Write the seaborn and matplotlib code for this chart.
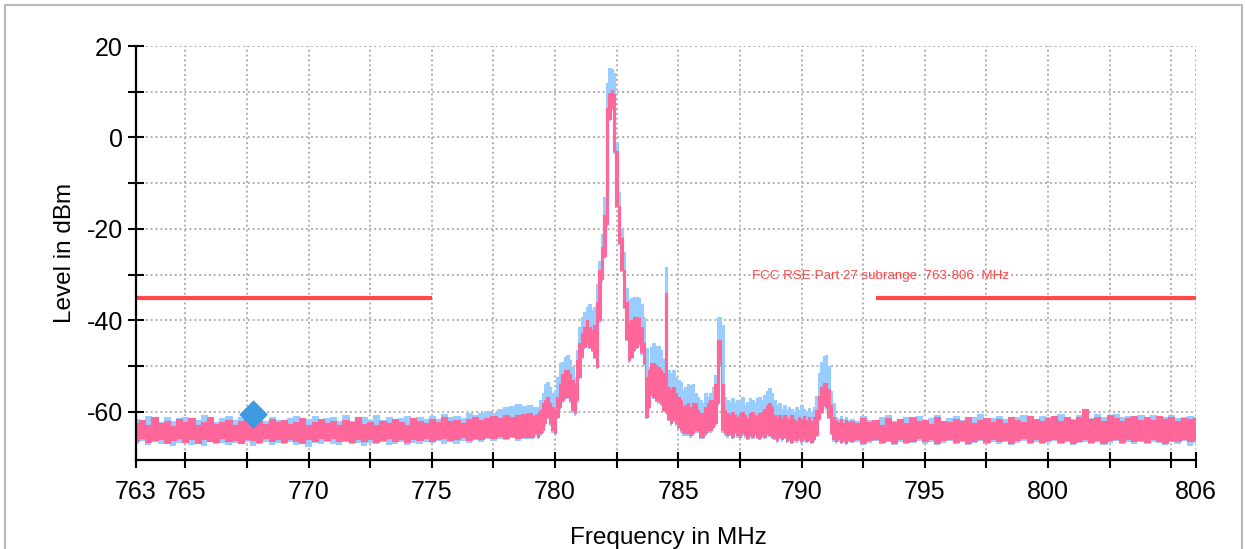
import numpy as np
import pandas as pd
import matplotlib
matplotlib.use("Agg")
import matplotlib.pyplot as plt
from matplotlib.lines import Line2D
import seaborn as sns

# ---------------- data ----------------
# Segment A: 763.00 .. 778.75 MHz, 0.25 MHz bins
pink_hi_a = [-62.5, -61.8, -62.9, -61.2, -62.4, -62.0, -63.1, -61.6,
             -62.2, -61.4, -62.8, -62.1, -61.0, -62.6, -62.3, -61.7,
             -62.9, -61.9, -61.3, -62.4, -62.0, -62.7, -61.5, -62.2,
             -61.8, -62.6, -62.1, -61.4, -62.9, -62.3, -61.6, -62.5,
             -62.0, -62.8, -61.7, -62.3, -61.2, -62.6, -62.1, -62.9,
             -61.9, -62.4, -61.5, -62.2, -62.8, -61.3, -62.0, -62.5,
             -61.6, -62.3, -61.1, -62.0, -61.8, -62.4, -61.5, -61.2,
             -61.8, -61.4, -60.9, -61.3, -60.7, -61.0, -60.6, -60.4]
pink_lo_a = [-66.3, -65.8, -66.6, -66.1, -65.9, -66.7, -66.2, -65.7,
             -66.5, -66.0, -66.8, -65.9, -66.3, -66.6, -65.8, -66.4,
             -66.1, -66.7, -65.9, -66.2, -66.5, -65.8, -66.4, -66.0,
             -66.6, -65.9, -66.3, -66.8, -66.0, -66.4, -65.7, -66.2,
             -65.8, -66.4, -66.1, -66.6, -65.9, -66.3, -66.0, -66.5,
             -66.2, -65.7, -66.4, -66.0, -66.6, -65.9, -66.2, -65.8,
             -66.3, -66.0, -65.6, -66.2, -65.9, -65.5, -66.1, -65.7,
             -65.9, -65.4, -65.8, -65.3, -65.6, -65.2, -65.7, -65.4]
blue_hi_a = [-61.6, -62.2, -60.9, -61.9, -62.3, -61.1, -62.0, -61.4,
             -61.0, -62.1, -61.7, -60.6, -61.9, -62.2, -61.3, -60.8,
             -61.8, -61.2, -62.0, -60.7, -61.5, -61.9, -61.0, -61.7,
             -62.1, -61.3, -60.8, -61.9, -61.5, -60.9, -62.0, -61.4,
             -61.2, -61.9, -60.7, -62.0, -61.4, -61.0, -61.8, -60.6,
             -61.7, -61.0, -62.1, -61.3, -60.8, -61.9, -61.2, -61.6,
             -60.9, -61.5, -60.4, -61.2, -60.8, -61.4, -60.2, -60.6,
             -60.3, -59.8, -60.2, -59.4, -59.0, -58.6, -58.2, -58.8]
blue_lo_a = [-66.9, -66.4, -67.3, -66.6, -67.0, -66.5, -67.4, -66.8,
             -66.6, -67.2, -66.7, -67.5, -66.5, -67.0, -66.8, -67.3,
             -66.7, -67.1, -66.5, -67.4, -66.9, -66.6, -67.2, -66.8,
             -67.0, -66.6, -67.3, -66.8, -67.6, -66.7, -67.0, -66.5,
             -66.9, -67.3, -66.6, -67.0, -66.7, -67.4, -66.8, -67.1,
             -66.6, -67.2, -66.9, -66.5, -67.3, -66.8, -67.0, -66.6,
             -66.8, -66.4, -67.1, -66.6, -66.9, -66.3, -66.7, -66.2,
             -66.5, -66.0, -66.4, -65.9, -66.2, -65.8, -66.3, -66.0]

# Segment B: 779.0 .. 791.9 MHz, 0.1 MHz bins
pink_hi_b = [-60.3, -61.0, -60.7, -60.3, -59.6, -58.1, -57.4, -56.7, -58.1, -58.9,
             -59.6, -56.7, -53.8, -51.6, -50.8, -50.8, -51.6, -53.0, -53.8, -48.7,
             -45.0, -42.8, -41.4, -39.9, -41.4, -42.1, -41.0, -36.0, -29.0, -24.0,
             -17.0, 6.5, 9.8, 10.4, 9.5, -3.0, -15.0, -22.0, -29.0, -36.0,
             -40.6, -39.9, -39.2, -39.2, -39.5, -41.4, -45.0, -52.3, -50.8, -49.3,
             -49.4, -49.8, -50.1, -50.8, -51.5, -34.0, -54.5, -55.2, -54.5, -55.9,
             -56.7, -57.4, -58.9, -58.5, -58.1, -58.9, -58.1, -58.1, -59.6, -60.3,
             -60.3, -58.9, -58.1, -57.4, -57.4, -53.8, -44.3, -44.3, -53.8, -59.6,
             -60.3, -60.7, -60.0, -60.7, -61.0, -60.3, -60.0, -60.7, -61.3, -60.3,
             -60.0, -60.7, -61.0, -60.3, -60.0, -59.3, -58.5, -58.0, -59.0, -60.7,
             -61.3, -60.7, -61.6, -60.7, -61.3, -61.8, -60.7, -61.5, -62.0, -61.0,
             -61.6, -60.9, -61.8, -61.2, -62.0, -61.0, -59.5, -56.5, -54.5, -53.7,
             -53.7, -55.0, -58.5, -61.2, -61.8, -62.2, -61.5, -62.4, -61.7, -62.3]
pink_lo_b = [-65.4, -65.4, -64.7, -65.4, -64.7, -64.0, -62.5, -61.0, -62.5, -64.0,
             -64.7, -61.0, -58.9, -57.4, -56.7, -56.7, -57.4, -59.6, -60.3, -57.4,
             -52.3, -47.9, -45.7, -45.0, -45.7, -46.5, -47.9, -50.1, -40.0, -31.0,
             -26.0, -19.0, 4.0, 6.5, -3.0, -15.0, -23.0, -29.0, -37.0, -44.0,
             -48.7, -47.9, -46.5, -45.7, -45.0, -47.0, -49.4, -61.0, -59.0, -56.0,
             -56.7, -57.4, -57.7, -58.1, -59.6, -60.0, -61.5, -62.5, -61.8, -62.5,
             -63.2, -64.0, -64.7, -64.7, -64.7, -65.1, -64.7, -64.0, -64.0, -65.4,
             -65.4, -64.7, -64.0, -64.0, -63.2, -62.5, -58.1, -49.4, -64.0, -64.7,
             -65.1, -64.7, -65.4, -64.4, -65.1, -65.4, -64.7, -65.1, -65.7, -65.0,
             -65.4, -64.7, -65.4, -65.7, -65.0, -65.4, -64.7, -65.0, -65.4, -65.7,
             -66.2, -65.4, -66.0, -65.5, -66.3, -65.8, -66.6, -65.9, -66.2, -65.6,
             -66.4, -65.8, -66.3, -65.9, -66.5, -66.0, -65.0, -61.5, -60.0, -58.5,
             -59.0, -61.0, -64.5, -66.0, -66.4, -66.0, -66.6, -66.2, -66.8, -66.1]
blue_hi_b = [-58.5, -58.9, -58.9, -58.9, -57.4, -55.9, -53.8, -53.4, -54.5, -55.9,
             -55.2, -52.3, -49.4, -49.0, -47.9, -47.6, -48.7, -50.1, -52.3, -46.5,
             -41.4, -39.2, -38.1, -37.0, -36.3, -37.7, -37.0, -32.0, -27.0, -21.0,
             -13.0, 12.0, 15.2, 15.0, 14.2, -1.0, -12.0, -20.0, -25.0, -33.0,
             -35.5, -35.0, -34.8, -34.8, -35.0, -36.5, -39.2, -46.0, -50.2, -45.8,
             -45.0, -45.5, -45.5, -46.5, -48.5, -28.3, -50.8, -51.5, -50.8, -52.3,
             -53.0, -53.4, -55.2, -54.5, -53.8, -54.0, -53.8, -55.9, -56.7, -57.4,
             -58.1, -55.9, -56.7, -55.9, -54.5, -52.0, -39.2, -39.2, -41.0, -56.7,
             -57.4, -57.8, -57.0, -58.1, -57.4, -57.8, -56.7, -58.5, -57.8, -57.0,
             -57.4, -58.1, -57.0, -56.7, -57.4, -56.3, -55.5, -54.8, -55.9, -57.4,
             -58.5, -58.1, -59.3, -58.5, -59.6, -58.9, -59.3, -60.0, -59.0, -59.6,
             -58.5, -59.3, -60.0, -59.2, -60.2, -59.0, -56.5, -51.5, -49.0, -47.8,
             -47.5, -50.0, -55.5, -58.0, -61.0, -61.5, -60.9, -61.6, -61.2, -61.8]
blue_lo_b = [-66.0, -65.9, -65.3, -66.0, -65.2, -64.6, -63.0, -61.6, -63.0, -64.5,
             -65.3, -61.5, -59.5, -58.0, -57.3, -57.2, -58.0, -60.2, -60.8, -58.0,
             -52.8, -48.5, -46.2, -45.5, -46.2, -47.0, -48.5, -50.6, -40.5, -31.5,
             -26.5, -19.5, 3.5, 6.0, -3.5, -15.5, -23.5, -29.5, -37.5, -44.5,
             -49.2, -48.4, -47.0, -46.2, -45.5, -47.5, -49.9, -61.5, -59.5, -56.5,
             -57.2, -57.9, -58.2, -58.6, -60.1, -60.5, -62.0, -63.0, -62.3, -63.0,
             -63.7, -64.5, -65.2, -65.2, -65.2, -65.6, -65.2, -64.5, -64.5, -65.9,
             -65.9, -65.2, -64.5, -64.5, -63.7, -63.0, -58.6, -49.9, -64.5, -65.2,
             -65.6, -65.2, -65.9, -64.9, -65.6, -65.9, -65.2, -65.6, -66.2, -65.5,
             -65.9, -65.2, -65.9, -66.2, -65.5, -65.9, -65.2, -65.5, -65.9, -66.2,
             -66.7, -65.9, -66.5, -66.0, -66.8, -66.3, -67.1, -66.4, -66.7, -66.1,
             -66.9, -66.3, -66.8, -66.4, -67.0, -66.5, -65.5, -62.0, -60.5, -59.0,
             -59.5, -61.5, -65.0, -66.5, -66.9, -66.5, -67.1, -66.7, -67.3, -66.6]

# Segment C: 792.00 .. 806.00 MHz, 0.25 MHz bins
pink_hi_c = [-61.9, -62.5, -61.4, -62.2, -61.7, -62.8, -61.3, -62.1,
             -61.6, -62.4, -61.0, -62.0, -61.8, -62.6, -61.2, -61.9,
             -62.3, -61.5, -62.0, -61.1, -62.5, -61.7, -61.3, -62.2,
             -61.6, -62.4, -61.0, -61.8, -62.1, -60.9, -61.5, -62.0,
             -61.4, -60.8, -61.9, -61.2, -61.7, -61.0, -59.4, -61.6,
             -61.1, -61.9, -60.6, -61.4, -62.0, -61.3, -60.9, -61.7,
             -61.2, -61.8, -60.8, -61.5, -61.0, -61.9, -61.3, -61.6,
             -61.4]
pink_lo_c = [-66.4, -66.0, -66.7, -66.2, -65.9, -66.5, -66.1, -66.8,
             -66.0, -66.6, -66.3, -65.8, -66.4, -66.0, -66.7, -66.2,
             -65.9, -66.5, -66.1, -66.8, -66.3, -65.9, -66.6, -66.0,
             -66.4, -66.1, -66.7, -66.2, -65.8, -66.5, -66.0, -66.6,
             -66.2, -65.9, -66.6, -66.1, -66.8, -66.3, -66.0, -66.5,
             -66.1, -66.7, -66.2, -65.9, -66.5, -66.0, -66.4, -66.1,
             -66.6, -66.0, -66.3, -66.8, -66.1, -66.4, -65.9, -66.3,
             -66.2]
blue_hi_c = [-61.5, -62.0, -60.9, -61.8, -62.2, -61.2, -60.7, -61.9,
             -62.1, -61.0, -61.6, -60.8, -61.9, -61.3, -60.6, -62.0,
             -61.4, -60.9, -61.7, -62.2, -61.0, -60.5, -61.8, -61.3,
             -60.8, -61.6, -62.0, -61.1, -60.6, -61.5, -61.9, -60.9,
             -61.2, -61.7, -60.4, -61.0, -61.5, -60.7, -60.2, -61.3,
             -60.5, -61.2, -61.6, -60.4, -61.1, -60.8, -61.5, -60.6,
             -61.0, -60.7, -61.4, -61.1, -60.6, -61.3, -61.0, -60.9,
             -61.2]
blue_lo_c = [-66.8, -66.5, -67.2, -66.7, -66.4, -67.0, -66.6, -67.3,
             -66.5, -67.1, -66.8, -66.3, -66.9, -66.5, -67.2, -66.7,
             -66.4, -67.0, -66.6, -67.3, -66.8, -66.4, -67.1, -66.5,
             -66.9, -66.6, -67.2, -66.7, -66.3, -67.0, -66.5, -67.1,
             -66.7, -66.4, -67.1, -66.6, -67.3, -66.8, -66.5, -67.0,
             -66.6, -67.2, -66.7, -66.4, -67.0, -66.5, -66.9, -66.6,
             -67.1, -66.5, -66.8, -67.3, -66.6, -66.9, -66.4, -67.5,
             -66.7]

# limit line (FCC RSE Part 27), marker
limit_level = -35.0
limit_segments = [(763.0, 775.0), (793.0, 806.0)]
limit_label = "FCC RSE Part 27 subrange  763-806  MHz"
limit_label_pos = (788.0, -30.3)
marker_freq = [767.77]
marker_level = [-60.6]

# axes / ticks
x_range = (763.0, 806.0)
y_range = (-70.5, 20.0)
x_major = [763, 765, 770, 775, 780, 785, 790, 795, 800, 806]
x_major_labels = ["763", "765", "770", "775", "780", "785", "790", "795", "800", "806"]
x_minor = [767.5, 772.5, 777.5, 782.5, 787.5, 792.5, 797.5, 802.5, 805]
y_major = [-60, -40, -20, 0, 20]
y_major_labels = ["-60", "-40", "-20", "0", "20"]
y_minor = [-50, -30, -10, 10]
x_label = "Frequency in MHz"
y_label = "Level in dBm"

# ---------------- styles ----------------
PINK = "#ff6699"
BLUE = "#99ccff"
RED = "#ff4848"
MARK = "#3d9ae0"
GRID = "#b0b0b0"

sns.set_theme(style="white")
plt.rcParams["font.family"] = ["Liberation Sans", "DejaVu Sans"]

W, H = 1245, 549
fig = plt.figure(figsize=(W / 100, H / 100), dpi=100)
fig.patch.set_facecolor("white")
ax = fig.add_axes([136 / W, 89 / H, 1060 / W, 414 / H])
ax.set_facecolor("white")

freq = np.concatenate([
    763.0 + 0.25 * np.arange(len(pink_hi_a)),
    779.0 + 0.1 * np.arange(len(pink_hi_b)),
    792.0 + 0.25 * np.arange(len(pink_hi_c)),
])
pink_hi = np.array(pink_hi_a + pink_hi_b + pink_hi_c)
pink_lo = np.array(pink_lo_a + pink_lo_b + pink_lo_c)
blue_hi = np.array(blue_hi_a + blue_hi_b + blue_hi_c)
blue_lo = np.array(blue_lo_a + blue_lo_b + blue_lo_c)

# blue (max hold) trace
ax.fill_between(freq, blue_lo, blue_hi, step="mid", color=BLUE, lw=0, zorder=2)
sns.lineplot(x=freq, y=blue_hi, ax=ax, color=BLUE, lw=0.8, drawstyle="steps-mid",
             estimator=None, sort=False, zorder=2)
# pink trace
ax.fill_between(freq, pink_lo, pink_hi, step="mid", color=PINK, lw=0, zorder=3)
sns.lineplot(x=freq, y=pink_hi, ax=ax, color=PINK, lw=0.8, drawstyle="steps-mid",
             estimator=None, sort=False, zorder=3)
sns.lineplot(x=freq, y=pink_lo, ax=ax, color=PINK, lw=0.8, drawstyle="steps-mid",
             estimator=None, sort=False, zorder=3)

# limit lines
for seg in limit_segments:
    df = pd.DataFrame({"f": list(seg), "lvl": [limit_level, limit_level]})
    sns.lineplot(data=df, x="f", y="lvl", ax=ax, color=RED, lw=3.0,
                 solid_capstyle="butt", zorder=4)
ax.text(limit_label_pos[0], limit_label_pos[1], limit_label, color=RED,
        fontsize=9.6, ha="left", va="center", zorder=5)

# marker
sns.scatterplot(x=marker_freq, y=marker_level, ax=ax, marker="D", s=215,
                color=MARK, edgecolor="none", zorder=6)

ax.set_xlim(*x_range)
ax.set_ylim(*y_range)
ax.set_xticks(x_major)
ax.set_xticklabels(x_major_labels)
ax.set_xticks(x_minor, minor=True)
ax.set_yticks(y_major)
ax.set_yticklabels(y_major_labels)
ax.set_yticks(y_minor, minor=True)
ax.set_xlabel("")
ax.set_ylabel("")

ax.grid(True, which="both", color=GRID, linestyle=(0, (1.0, 1.5)), linewidth=1.4)
ax.set_axisbelow(True)
for g in ax.get_xgridlines() + ax.get_ygridlines():
    g.set_zorder(0.5)

for s in ["top", "right"]:
    ax.spines[s].set_visible(False)
for s in ["left", "bottom"]:
    ax.spines[s].set_visible(True)
    ax.spines[s].set_color("black")
    ax.spines[s].set_linewidth(1.6)
    ax.spines[s].set_zorder(7)

ax.tick_params(axis="both", which="both", direction="inout", length=11,
               width=1.5, color="black", labelsize=18, labelcolor="black",
               bottom=True, left=True)
ax.tick_params(axis="x", which="both", pad=9)
ax.tick_params(axis="y", which="both", pad=4)

fig.text(668 / W, 5 / H, x_label, ha="center", va="baseline", fontsize=17.5,
         color="black")
fig.text(65 / W, 1 - 253 / H, y_label, ha="center", va="center", rotation=90,
         fontsize=17.5, color="black")

# figure frame (top, left, right)
frame = Line2D([5 / W, 5 / W, 1242 / W, 1242 / W],
               [-0.01, 1 - 5 / H, 1 - 5 / H, -0.01],
               transform=fig.transFigure, color="#b8b8b8", lw=1.5)
fig.add_artist(frame)

fig.savefig("out.png", dpi=100, facecolor="white")
